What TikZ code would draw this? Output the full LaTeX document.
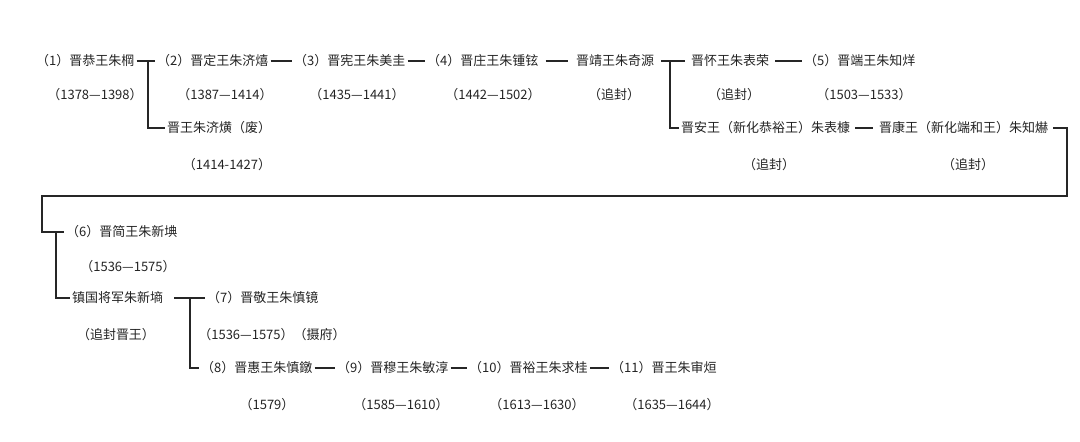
\documentclass[tikz,border=0pt]{standalone}
\usepackage{fontspec}
\setmainfont{Noto Sans CJK SC}
\usepackage{xcolor}
\definecolor{inkgray}{RGB}{35,35,35}
\usepackage{tikz}
\usetikzlibrary{positioning}

\begin{document}
\begin{tikzpicture}[
  x=1pt, y=-1pt,
  font=\fontsize{13}{15}\selectfont,
  prince/.style={anchor=west, inner sep=2pt, text=inkgray,
                 text height=11pt, text depth=2pt},
  reign/.style={inner sep=2pt, text=inkgray,
                text height=11pt, text depth=2pt},
  link/.style={draw=black!85, line width=1.1pt}
]
\useasboundingbox (0,0) rectangle (1080,442);

%% First row of princes
\node (n1)  [prince] at (34,61)  {（1）晋恭王朱棡};
\node (n2)  [prince] at (155,61) {（2）晋定王朱济熺};
\node (n3)  [prince] at (292,61) {（3）晋宪王朱美圭};
\node (n4)  [prince] at (425,61) {（4）晋庄王朱锺铉};
\node (n5a) [prince] at (574,61) {晋靖王朱奇源};
\node (n5b) [prince] at (689,61) {晋怀王朱表荣};
\node (n6)  [prince] at (802,61) {（5）晋端王朱知烊};

%% Second row (side branches)
\node (n2b) [prince] at (165,128) {晋王朱济熿（废）};
\node (n5c) [prince] at (679,128) {晋安王（新化恭裕王）朱表槺};
\node (n7)  [prince] at (877,128) {晋康王（新化端和王）朱知爀};

%% Lower rows
\node (n8)  [prince] at (64,232)  {（6）晋简王朱新㙉};
\node (n9)  [prince] at (70,298)  {镇国将军朱新墒};
\node (n10) [prince] at (205,298) {（7）晋敬王朱慎镜};
\node (n11) [prince] at (199,368) {（8）晋惠王朱慎鐓};
\node (n12) [prince] at (335,368) {（9）晋穆王朱敏淳};
\node (n13) [prince] at (467,368) {（10）晋裕王朱求桂};
\node (n14) [prince] at (609,368) {（11）晋王朱审烜};

%% Reign years
\node (d1)  [reign] at (95,95)   {（1378—1398）};
\node (d2)  [reign] at (225,95)  {（1387—1414）};
\node (d3)  [reign] at (357,95)  {（1435—1441）};
\node (d4)  [reign] at (493,95)  {（1442—1502）};
\node (d5a) [reign] at (614,95)  {（追封）};
\node (d5b) [reign] at (734,95)  {（追封）};
\node (d6)  [reign] at (864,95)  {（1503—1533）};
\node (d2b) [reign] at (227,165) {（1414-1427）};
\node (d5c) [reign] at (769,165) {（追封）};
\node (d7)  [reign] at (968,165) {（追封）};
\node (d8)  [reign] at (128,267) {（1536—1575）};
\node (d9)  [reign] at (116,335) {（追封晋王）};
\node (d10) [reign] at (272,335) {（1536—1575）（摄府）};
\node (d11) [reign] at (267,405) {（1579）};
\node (d12) [reign] at (401,405) {（1585—1610）};
\node (d13) [reign] at (537,405) {（1613—1630）};
\node (d14) [reign] at (672,405) {（1635—1644）};

%% Succession lines
\draw [link] (n1.east) -- (n2.west);
\draw [link] ([xshift=-7pt]n2.west) |- (n2b.west);
\draw [link] (n2.east) -- (n3.west);
\draw [link] (n3.east) -- (n4.west);
\draw [link, shorten <=5pt, shorten >=6pt] (n4.east) -- (n5a.west);
\draw [link, shorten <=5pt, shorten >=4pt] (n5a.east) -- (n5b.west);
\draw [link] ([xshift=-19pt]n5b.west) |- (n5c.west);
\draw [link, shorten <=4pt] (n5b.east) -- (n6.west);
\draw [link, shorten <=3pt, shorten >=4pt] (n5c.east) -- (n7.west);

%% Wrap round to the next line
\coordinate (turnR) at (1067,196);
\coordinate (turnL) at (42,196);
\draw [link] ([xshift=3pt]n7.east) -| (turnR) -- (turnL) |- (n8.west);
\draw [link] ([xshift=-8pt]n8.west) |- (n9.west);
\draw [link, shorten <=9pt] (n9.east) -- (n10.west);
\draw [link] ([xshift=-15pt]n10.west) |- (n11.west);
\draw [link] (n11.east) -- (n12.west);
\draw [link] (n12.east) -- (n13.west);
\draw [link] (n13.east) -- (n14.west);

\end{tikzpicture}
\end{document}
